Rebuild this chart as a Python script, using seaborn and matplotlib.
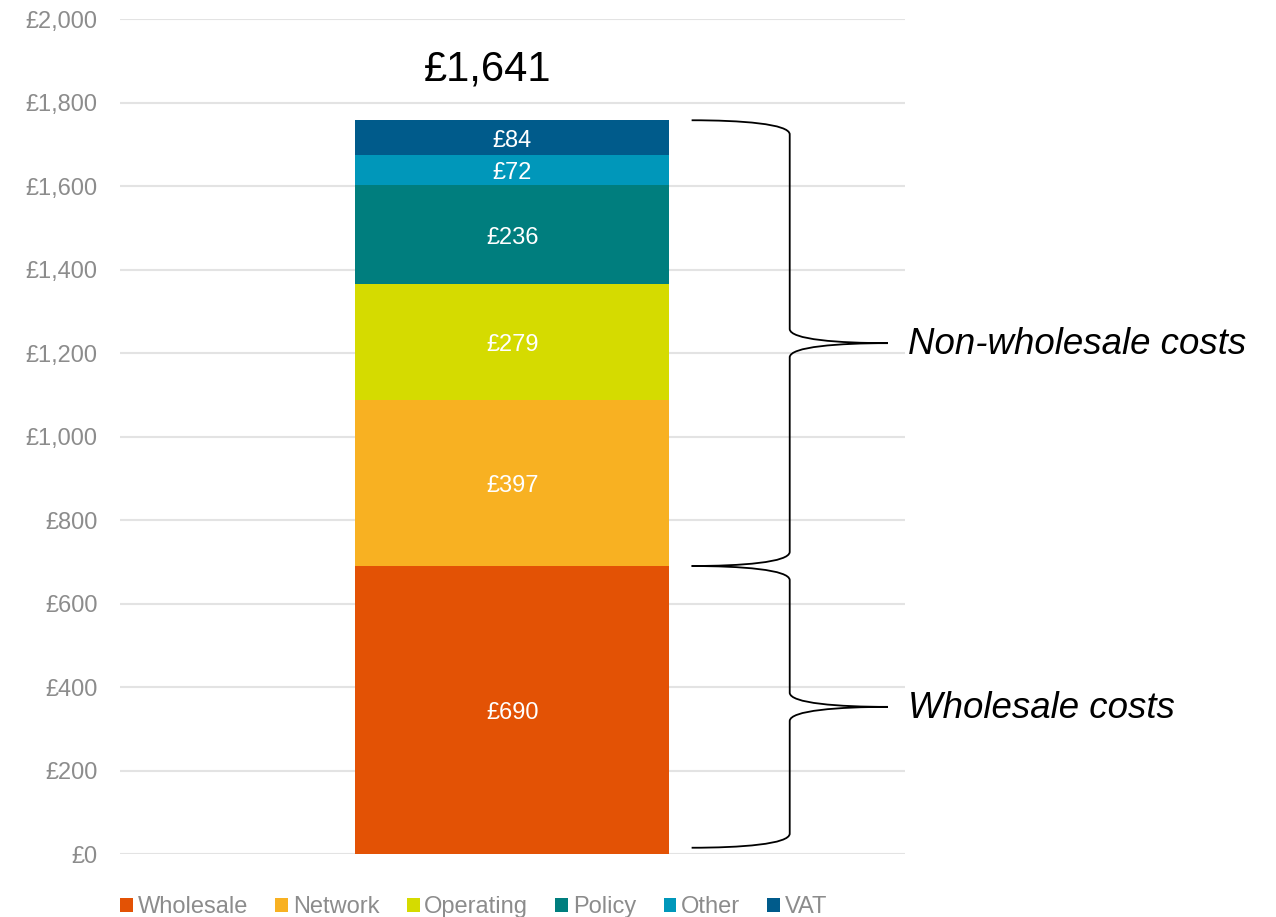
import matplotlib
matplotlib.use("Agg")
import matplotlib.pyplot as plt
from matplotlib.path import Path
from matplotlib.patches import PathPatch, Patch
import seaborn as sns

components = ["Wholesale", "Network", "Operating", "Policy", "Other", "VAT"]
values = [690, 397, 279, 236, 72, 84]
colors = ["#E35205", "#F8B122", "#D5DB00", "#007E7E", "#0097BA", "#005B8B"]
total_label = "£1,641"
y_ticks = list(range(0, 2001, 200))
brace_groups = [("Wholesale costs", 15, 690), ("Non-wholesale costs", 690, 1758)]


def brace(ax, y0, y1, x0=0.457, xm=0.707, xt=0.957, r=34):
    ym = (y0 + y1) / 2
    verts = [
        (x0, y1), ((x0 + xm) / 2, y1), (xm, y1 - 0.25 * r), (xm, y1 - r),
        (xm, ym + r),
        (xm, ym + 0.25 * r), ((xm + xt) / 2, ym), (xt, ym),
        ((xm + xt) / 2, ym), (xm, ym - 0.25 * r), (xm, ym - r),
        (xm, y0 + r),
        (xm, y0 + 0.25 * r), ((x0 + xm) / 2, y0), (x0, y0),
    ]
    codes = [Path.MOVETO, Path.CURVE4, Path.CURVE4, Path.CURVE4,
             Path.LINETO,
             Path.CURVE4, Path.CURVE4, Path.CURVE4,
             Path.CURVE4, Path.CURVE4, Path.CURVE4,
             Path.LINETO,
             Path.CURVE4, Path.CURVE4, Path.CURVE4]
    ax.add_patch(PathPatch(Path(verts, codes), fill=False, lw=1.3,
                           color="black", clip_on=False))
    return ym


def main():
    sns.set_theme(style="white")
    plt.rcParams["font.family"] = ["Liberation Sans", "DejaVu Sans"]

    fig = plt.figure(figsize=(12.76, 9.17), dpi=100)
    ax = fig.add_axes([0.094, 0.0687, 0.615, 0.9103])

    bottom = 0
    for name, val, col in zip(components, values, colors):
        sns.barplot(x=[""], y=[val], bottom=bottom, color=col, width=0.8,
                    saturation=1, linewidth=0, ax=ax)
        ax.text(0, bottom + val / 2 - 7, f"£{val}", ha="center", va="center",
                color="white", fontsize=17)
        bottom += val

    ax.text(-0.062, 1880, total_label, ha="center", va="center", fontsize=30,
            color="black")

    ax.set_xlim(-1, 1)
    ax.set_ylim(0, 2000)
    ax.set_yticks(y_ticks)
    ax.set_yticklabels([f"£{t:,}" for t in y_ticks])
    ax.tick_params(axis="y", labelsize=17, labelcolor="#8c8c8c", length=0, pad=16)
    ax.set_xticks([])
    ax.set_xlabel("")
    ax.set_ylabel("")
    ax.yaxis.grid(True, color="#e3e3e3", lw=1.5)
    ax.set_axisbelow(True)
    sns.despine(ax=ax, left=True, bottom=True)

    for label, y0, y1 in brace_groups:
        ym = brace(ax, y0, y1)
        ax.text(1.008, ym - 4, label, ha="left", va="center", fontsize=26.4,
                style="italic", color="black", clip_on=False)

    handles = [Patch(facecolor=c, edgecolor="none") for c in colors]
    fig.legend(handles, components, loc="center left", ncol=6,
               bbox_to_anchor=(0.094, 1 - 907 / 917), frameon=False,
               fontsize=17, handlelength=0.55, handleheight=0.55,
               handletextpad=0.2, columnspacing=1.15, borderpad=0,
               borderaxespad=0, labelcolor="#8c8c8c")

    fig.savefig("out.png", dpi=100)


if __name__ == "__main__":
    main()
